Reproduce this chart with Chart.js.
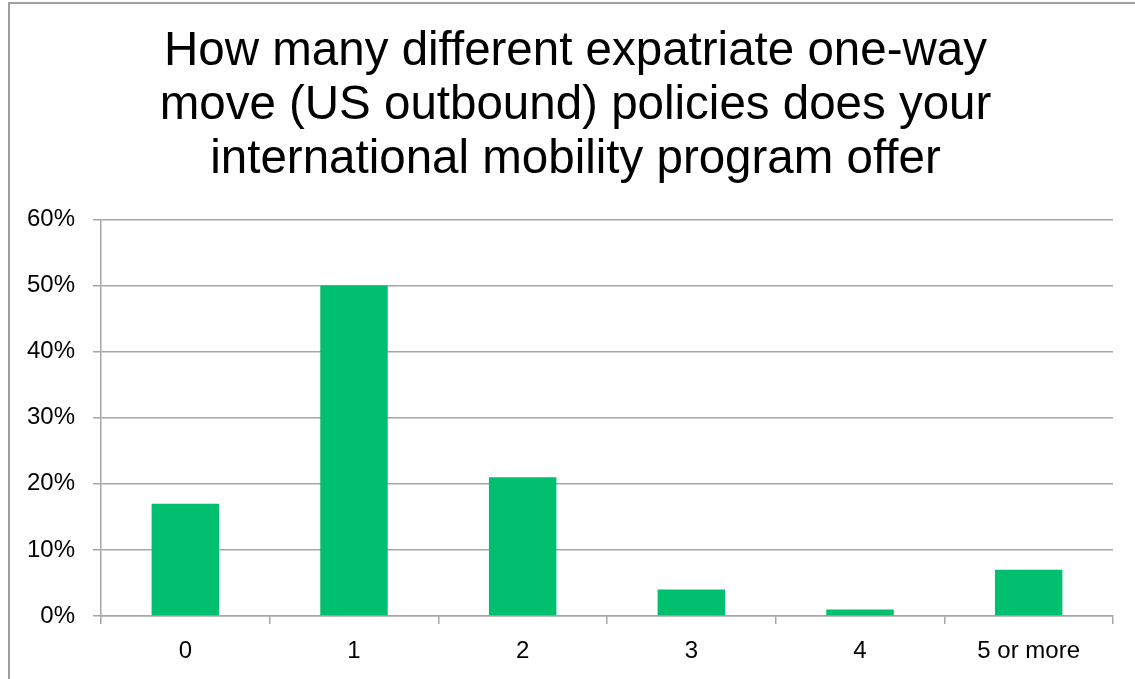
<!DOCTYPE html>
<html>
<head>
<meta charset="utf-8">
<script src="https://cdn.jsdelivr.net/npm/chart.js@4"></script>
<style>
  html, body { margin: 0; padding: 0; background: #fff; overflow: hidden; }
  #wrap { width: 1150px; height: 679px; }
</style>
</head>
<body>
<div id="wrap"><canvas id="chart" width="1150" height="679"></canvas></div>
<script>
// Survey answers: number of one-way move policies offered
const categories = ['0', '1', '2', '3', '4', '5 or more'];
const shares = [17, 50, 21, 4, 1, 7];          // percent of respondents
const yTickValues = [0, 10, 20, 30, 40, 50, 60]; // percent axis
const titleLines = [
  'How many different expatriate one-way',
  'move (US outbound) policies does your',
  'international mobility program offer'
];

const FONT = "'Liberation Sans', Arial, Helvetica, sans-serif";
const GRID = '#A6A6A6';

// Light frame along the top and left edges of the chart
const framePlugin = {
  id: 'frame',
  beforeDraw(chart) {
    const ctx = chart.ctx;
    ctx.save();
    ctx.fillStyle = '#fff';
    ctx.fillRect(0, 0, chart.width, chart.height);
    ctx.strokeStyle = '#A0A0A0';
    ctx.lineWidth = 2;
    ctx.beginPath();
    ctx.moveTo(9, chart.height);
    ctx.lineTo(9, 3);
    ctx.lineTo(chart.width, 3);
    ctx.stroke();
    ctx.restore();
  }
};

// Center the title over the whole frame rather than the padded area
const titleSpanPlugin = {
  id: 'titleSpan',
  afterLayout(chart) {
    const t = chart.titleBlock;
    if (t) {
      t.left = 38;
      t.width = t.right - t.left;
    }
  }
};

new Chart(document.getElementById('chart'), {
  type: 'bar',
  data: {
    labels: categories,
    datasets: [{
      data: shares,
      backgroundColor: '#00BF6F',
      borderWidth: 0,
      barPercentage: 0.4,
      categoryPercentage: 1.0
    }]
  },
  options: {
    responsive: false,
    animation: false,
    layout: { padding: { left: 0, right: 37, top: 0, bottom: 0 } },
    plugins: {
      legend: { display: false },
      tooltip: { enabled: false },
      title: {
        display: true,
        text: titleLines,
        color: '#000',
        font: { family: FONT, size: 47.5, weight: 'normal', lineHeight: 1.14 },
        padding: { top: 25, bottom: 32 }
      }
    },
    scales: {
      x: {
        afterFit(scale) { scale.height = 63; },
        grid: {
          offset: true,
          drawOnChartArea: false,
          drawTicks: true,
          tickLength: 8,
          color: GRID,
          lineWidth: 1.5
        },
        border: { display: true, color: GRID, width: 1.5 },
        ticks: {
          color: '#000',
          padding: 13,
          font: { family: FONT, size: 24 }
        }
      },
      y: {
        min: 0,
        max: 60,
        afterFit(scale) { scale.width = 101; },
        afterBuildTicks(scale) {
          scale.ticks = yTickValues.map(v => ({ value: v }));
        },
        grid: {
          color: GRID,
          lineWidth: 1.5,
          drawTicks: true,
          tickLength: 8
        },
        border: { display: true, color: GRID, width: 1.5 },
        ticks: {
          color: '#000',
          padding: 18,
          font: { family: FONT, size: 24 },
          callback: v => v + '%'
        }
      }
    }
  },
  plugins: [framePlugin, titleSpanPlugin]
});
</script>
</body>
</html>
